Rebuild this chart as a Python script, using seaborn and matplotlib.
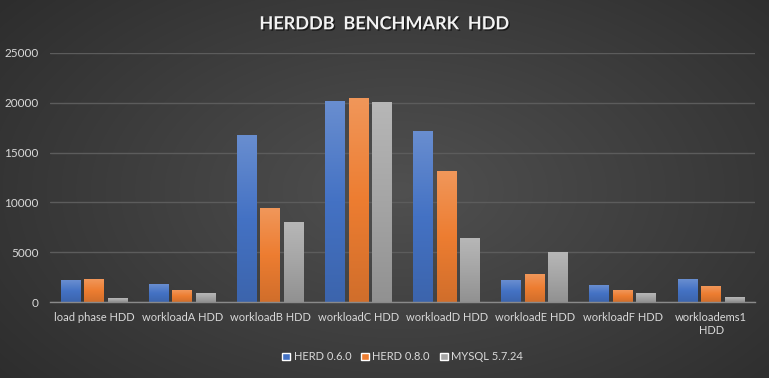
import numpy as np
import pandas as pd
import matplotlib
matplotlib.use("Agg")
import matplotlib.pyplot as plt
import matplotlib.patheffects as pe
from matplotlib.colors import LinearSegmentedColormap, to_rgb
import seaborn as sns

categories = ["load phase HDD", "workloadA HDD", "workloadB HDD", "workloadC HDD",
              "workloadD HDD", "workloadE HDD", "workloadF HDD", "workloadems1\nHDD"]
herd_060 = [2200, 1800, 16800, 20200, 17200, 2200, 1700, 2300]
herd_080 = [2300, 1200, 9400, 20500, 13100, 2800, 1200, 1600]
mysql_5724 = [400, 900, 8000, 20100, 6400, 5000, 900, 500]
series_names = ["HERD 0.6.0", "HERD 0.8.0", "MYSQL 5.7.24"]
y_ticks = [0, 5000, 10000, 15000, 20000, 25000]

df = pd.DataFrame({
    "category": categories * 3,
    "series": sum([[s] * len(categories) for s in series_names], []),
    "value": herd_060 + herd_080 + mysql_5724,
})

sns.set_theme(style="dark")
plt.rcParams["font.family"] = ["Lato", "DejaVu Sans"]

colors = {"HERD 0.6.0": "#4472C4", "HERD 0.8.0": "#ED7D31", "MYSQL 5.7.24": "#A5A5A5"}
text_col = "#D9D9D9"

fig = plt.figure(figsize=(7.69, 3.78), dpi=100)

# background radial gradient
bg = fig.add_axes([0, 0, 1, 1], zorder=-10)
bg.axis("off")
yy, xx = np.mgrid[0:378, 0:769]
r = np.sqrt(((xx - 400) / 560.0) ** 2 + ((yy - 190) / 330.0) ** 2)
r = np.clip(r, 0, 1)
c_in = np.array(to_rgb("#505050"))
c_out = np.array(to_rgb("#2a2a2a"))
img = c_in[None, None, :] * (1 - r[..., None]) + c_out[None, None, :] * r[..., None]
bg.imshow(img, aspect="auto", extent=[0, 1, 0, 1])
bg.set_xlim(0, 1); bg.set_ylim(0, 1)

ax = fig.add_axes([0.065, 0.201, 0.917, 0.659])
ax.set_facecolor("none")
sns.barplot(data=df, x="category", y="value", hue="series", palette=colors,
            width=0.8, gap=0.15, ax=ax, legend=True, saturation=1)

# gradient fill on bars
for cont, name in zip(ax.containers, series_names):
    base = np.array(to_rgb(colors[name]))
    light = base + (1 - base) * 0.2
    dark = base * 0.88
    cmap = LinearSegmentedColormap.from_list("g", [dark, base, light])
    grad = np.linspace(0, 1, 256).reshape(-1, 1)
    for p in cont.patches:
        x0, y0 = p.get_x(), p.get_y()
        w, h = p.get_width(), p.get_height()
        p.set_edgecolor("none")
        im = ax.imshow(grad, cmap=cmap, origin="lower", aspect="auto",
                       extent=[x0, x0 + w, y0, y0 + h], zorder=p.get_zorder() + 0.1)
        im.set_clip_path(p)

ax.set_xlim(-0.5, len(categories) - 0.5)
ax.set_ylim(0, 25000)
ax.set_yticks(y_ticks)
ax.set_yticklabels([str(v) for v in y_ticks])
ax.grid(axis="y", color="#5c5c5c", linewidth=1)
ax.grid(axis="x", visible=False)
ax.set_axisbelow(True)
for s in ["top", "right", "left"]:
    ax.spines[s].set_visible(False)
ax.spines["bottom"].set_color("#8a8a8a")
ax.spines["bottom"].set_linewidth(1)
ax.tick_params(axis="y", length=0, colors=text_col, labelsize=8.5, pad=8)
ax.tick_params(axis="x", length=0, colors=text_col, labelsize=8, pad=7)
ax.set_xlabel("")
ax.set_ylabel("")

leg = ax.legend(loc="center", bbox_to_anchor=(0.5, -0.22), ncol=3, frameon=False,
                fontsize=8, handlelength=0.7, handleheight=0.7, handletextpad=0.3,
                columnspacing=0.9, labelcolor=text_col)

fig.text(0.5, 0.937, "HERDDB  BENCHMARK  HDD", ha="center", va="center",
         fontsize=13, fontweight="bold", color="#F2F2F2",
         path_effects=[pe.withSimplePatchShadow(offset=(1, -1), shadow_rgbFace="black", alpha=0.6)])

fig.savefig("out.png", dpi=100)
